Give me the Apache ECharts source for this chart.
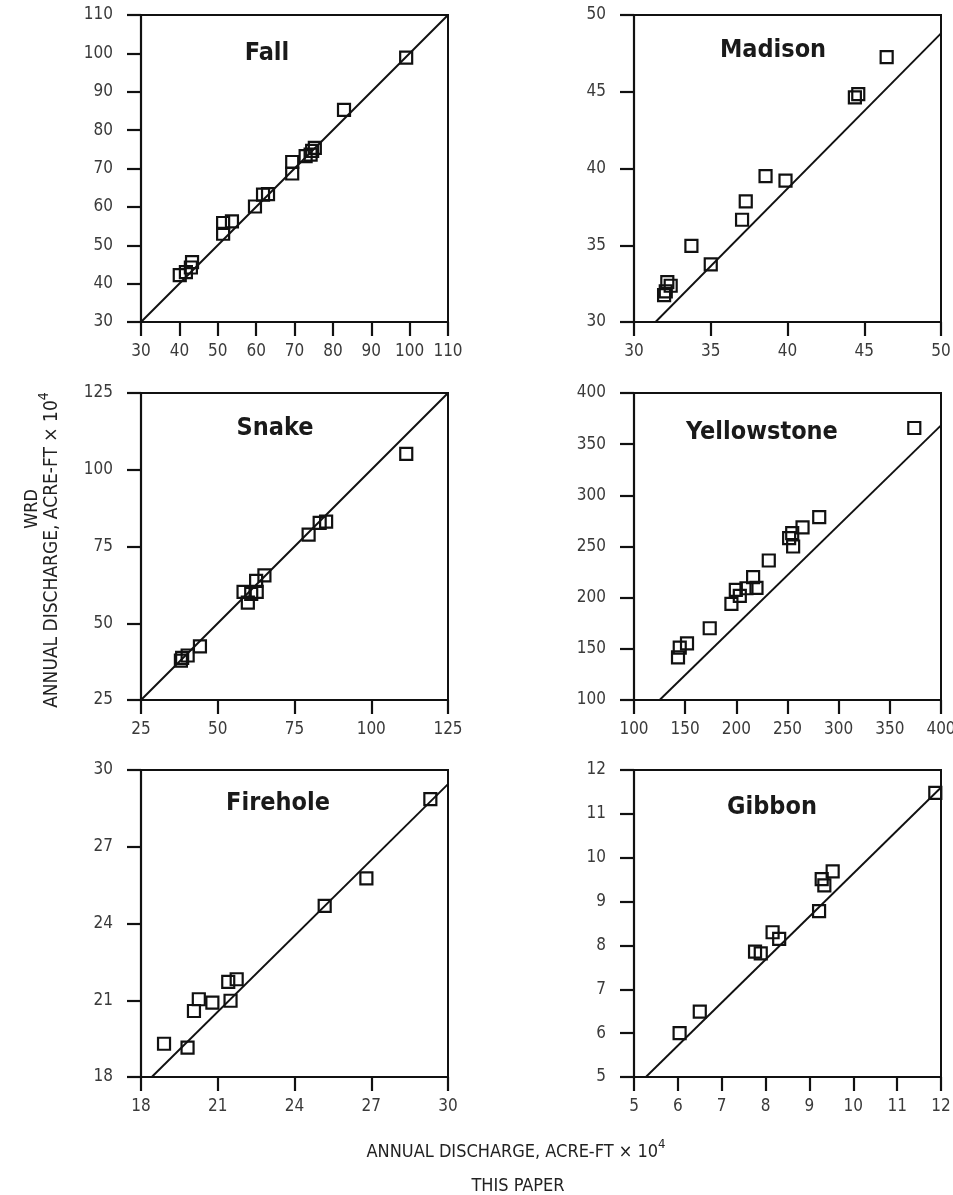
<!DOCTYPE html>
<html>
<head>
<meta charset="utf-8">
<script src="https://cdn.jsdelivr.net/npm/echarts@6/dist/echarts.min.js"></script>
<style>
html,body{margin:0;padding:0;background:#fff;}
#chart{width:953px;height:1195px;}
</style>
</head>
<body>
<div id="chart"></div>
<script>
// ---- Data (this paper = x, WRD = y), annual discharge, acre-ft x 10^4 ----
const panelNames = ['Fall', 'Madison', 'Snake', 'Yellowstone', 'Firehole', 'Gibbon'];

const fallPaper = [40.1, 41.7, 43.0, 43.3, 51.4, 51.4, 53.7, 59.7, 61.8, 63.1, 69.4, 69.4, 72.9, 74.2, 74.6, 75.3, 82.9, 99.1];
const fallWRD   = [42.2, 43.0, 44.2, 45.6, 53.0, 55.8, 56.2, 60.1, 63.2, 63.3, 68.7, 71.7, 73.2, 73.6, 74.6, 75.4, 85.3, 98.9];
const fallLine  = [[30, 30], [110, 110]];

const madisonPaper = [31.96, 32.07, 32.17, 32.39, 33.74, 35.0, 37.04, 37.28, 38.57, 39.87, 44.39, 44.61, 46.46];
const madisonWRD   = [31.75, 32.0, 32.6, 32.36, 34.96, 33.76, 36.66, 37.86, 39.5, 39.21, 44.63, 44.85, 47.25];
const madisonLine  = [[31.4, 30], [50, 48.8]];

const snakePaper = [38.0, 38.4, 40.2, 44.2, 58.4, 59.8, 60.9, 62.7, 62.5, 65.2, 79.6, 83.2, 85.3, 111.4];
const snakeWRD   = [37.85, 38.7, 39.5, 42.5, 60.2, 56.7, 59.6, 60.2, 63.8, 65.6, 78.9, 82.7, 83.1, 105.2];
const snakeLine  = [[25, 25], [125, 125]];

const yellowstonePaper = [143.0, 144.7, 151.8, 174.0, 195.2, 199.5, 203.4, 209.9, 216.4, 219.7, 231.7, 251.6, 254.6, 255.5, 264.7, 281.0, 373.9];
const yellowstoneWRD   = [141.7, 151.2, 155.4, 170.1, 193.9, 207.6, 201.7, 209.2, 220.0, 209.6, 236.3, 258.2, 263.0, 250.0, 268.6, 278.7, 365.8];
const yellowstoneLine  = [[125, 100], [400, 368.4]];

const fireholePaper = [18.90, 19.82, 20.07, 20.26, 20.79, 21.41, 21.50, 21.74, 25.18, 26.81, 29.31];
const fireholeWRD   = [19.30, 19.15, 20.58, 21.04, 20.91, 21.72, 20.98, 21.82, 24.69, 25.76, 28.86];
const fireholeLine  = [[18.42, 18], [30, 29.45]];

const gibbonPaper = [6.04, 6.50, 7.76, 7.89, 8.16, 8.31, 9.22, 9.28, 9.34, 9.53, 11.87];
const gibbonWRD   = [6.0, 6.49, 7.86, 7.82, 8.30, 8.15, 8.78, 9.51, 9.37, 9.69, 11.48];
const gibbonLine  = [[5.27, 5], [12, 11.6]];

// axis ranges [min, max, interval] (same for x and y in each panel)
const axisRanges = [[30, 110, 10], [30, 50, 5], [25, 125, 25], [100, 400, 50], [18, 30, 3], [5, 12, 1]];

const paperArr = [fallPaper, madisonPaper, snakePaper, yellowstonePaper, fireholePaper, gibbonPaper];
const wrdArr = [fallWRD, madisonWRD, snakeWRD, yellowstoneWRD, fireholeWRD, gibbonWRD];
const lineArr = [fallLine, madisonLine, snakeLine, yellowstoneLine, fireholeLine, gibbonLine];

// ---- Layout ----
const FONT = '"Liberation Sans Narrow", "DejaVu Sans Condensed", "Arial Narrow", sans-serif';
const colLeft = [141, 634];
const rowTop = [15, 393, 770];
const W = 307, H = 307;
const titlePos = [[267, 53], [773, 50], [275, 428], [762, 432], [278, 803], [772, 807]];

const grids = [], xAxes = [], yAxes = [], series = [], graphics = [];
for (let i = 0; i < 6; i++) {
  const c = i % 2, r = Math.floor(i / 2);
  grids.push({left: colLeft[c], top: rowTop[r], width: W, height: H,
    containLabel: false, outerBoundsMode: 'none',
    show: true, borderColor: '#111', borderWidth: 2, backgroundColor: 'transparent'});
  const [mn, mx, iv] = axisRanges[i];
  const common = {
    type: 'value', min: mn, max: mx, interval: iv, gridIndex: i,
    splitLine: {show: false},
    axisLine: {show: true, onZero: false, lineStyle: {color: '#111', width: 2.2}},
    axisTick: {show: true, inside: false, length: 14, lineStyle: {color: '#111', width: 2.2}},
  };
  xAxes.push(Object.assign({}, common, {
    axisLabel: {margin: 21, color: '#3a3a3a', fontSize: 17, fontFamily: FONT, showMinLabel: true, showMaxLabel: true}
  }));
  yAxes.push(Object.assign({}, common, {
    axisLabel: {margin: 28, color: '#3a3a3a', fontSize: 17, fontFamily: FONT, showMinLabel: true, showMaxLabel: true}
  }));
  series.push({
    type: 'line', xAxisIndex: i, yAxisIndex: i, data: lineArr[i],
    symbol: 'none', silent: true, animation: false, z: 2,
    lineStyle: {color: '#111', width: 1.9}
  });
  series.push({
    type: 'scatter', xAxisIndex: i, yAxisIndex: i,
    data: paperArr[i].map((x, k) => [x, wrdArr[i][k]]),
    symbol: 'rect', symbolSize: 12, animation: false, z: 3,
    itemStyle: {color: 'transparent', borderColor: '#111', borderWidth: 2.2, opacity: 1}
  });
  graphics.push({
    type: 'text', x: titlePos[i][0], y: titlePos[i][1], z: 10,
    style: {text: panelNames[i], fill: '#1a1a1a', font: 'bold 25px ' + FONT,
      align: 'center', verticalAlign: 'middle', textAlign: 'center', textVerticalAlign: 'middle'}
  });
}

const richBottom = {
  a: {fontSize: 18, fontFamily: FONT, fill: '#222', color: '#222'},
  s: {fontSize: 13, fontFamily: FONT, fill: '#222', color: '#222', padding: [0, 0, 14, 0]}
};
const richLeft = {
  a: {fontSize: 19, fontFamily: FONT, fill: '#222', color: '#222'},
  s: {fontSize: 14, fontFamily: FONT, fill: '#222', color: '#222', padding: [0, 0, 15, 0]}
};

// y axis titles
graphics.push({
  type: 'text', x: 32, y: 509, rotation: Math.PI / 2,
  style: {text: 'WRD', fill: '#222', font: '18px ' + FONT, align: 'center', verticalAlign: 'middle', textAlign: 'center', textVerticalAlign: 'middle'}
});
graphics.push({
  type: 'text', x: 52, y: 550, rotation: Math.PI / 2,
  style: {text: '{a|ANNUAL DISCHARGE, ACRE-FT × 10}{s|4}', rich: richLeft, fill: '#222',
    align: 'center', verticalAlign: 'middle', textAlign: 'center', textVerticalAlign: 'middle'}
});
// x axis titles
graphics.push({
  type: 'text', x: 516, y: 1152,
  style: {text: '{a|ANNUAL DISCHARGE, ACRE-FT × 10}{s|4}', rich: richBottom, fill: '#222',
    align: 'center', verticalAlign: 'middle', textAlign: 'center', textVerticalAlign: 'middle'}
});
graphics.push({
  type: 'text', x: 518, y: 1186,
  style: {text: 'THIS PAPER', fill: '#222', font: '18px ' + FONT, align: 'center', verticalAlign: 'middle', textAlign: 'center', textVerticalAlign: 'middle'}
});

const chart = echarts.init(document.getElementById('chart'), null, {renderer: 'canvas'});
chart.setOption({
  animation: false,
  backgroundColor: '#fff',
  grid: grids, xAxis: xAxes, yAxis: yAxes, series: series, graphic: graphics
});
</script>
</body>
</html>
